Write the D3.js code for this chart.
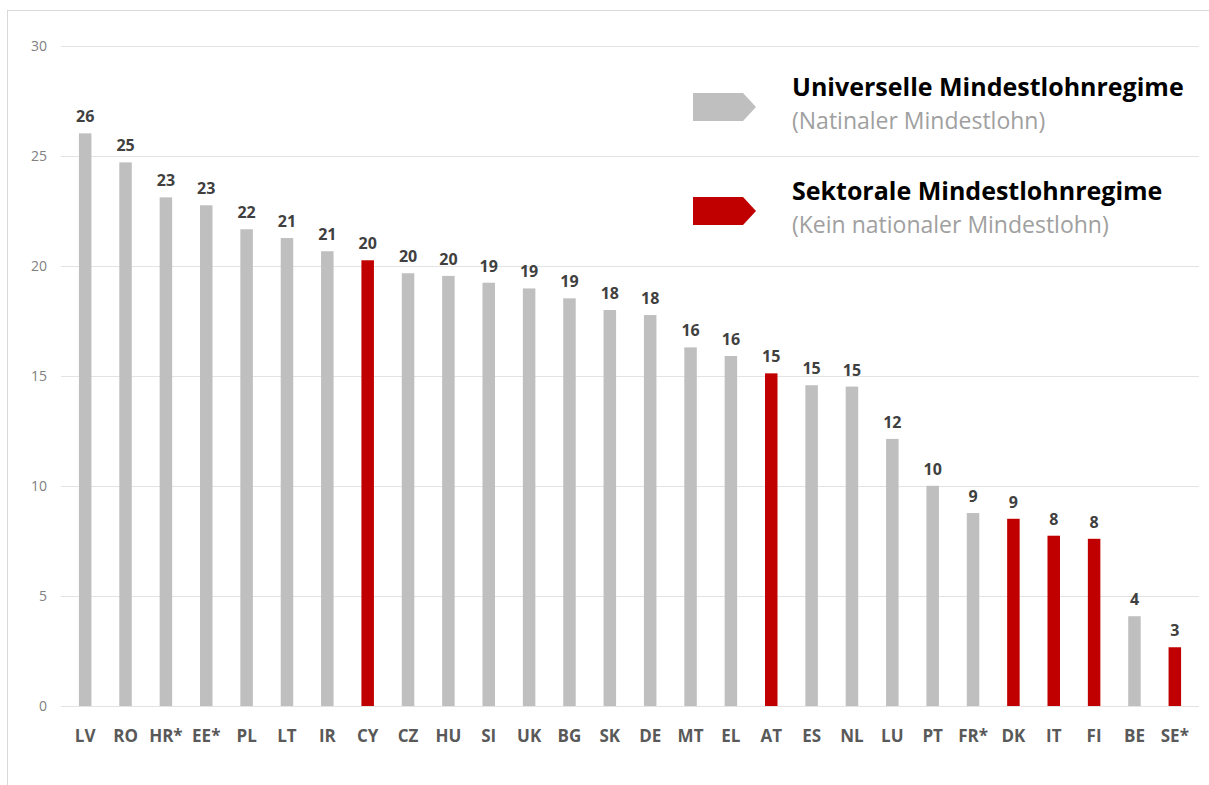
<!DOCTYPE html>
<html>
<head>
<meta charset="utf-8">
<script src="https://cdn.jsdelivr.net/npm/d3@7"></script>
<style>
  body { margin: 0; background: #fff; }
  svg { display: block; font-family: "Open Sans", "Noto Sans", sans-serif; }
</style>
</head>
<body>
<svg id="chart" width="1209" height="785"></svg>
<script>

// Laender (Reihenfolge wie im Bild)
var countries = ["LV", "RO", "HR*", "EE*", "PL", "LT", "IR", "CY", "CZ", "HU",
  "SI", "UK", "BG", "SK", "DE", "MT", "EL", "AT", "ES", "NL",
  "LU", "PT", "FR*", "DK", "IT", "FI", "BE", "SE*"];

// Werte
var values = [26.03, 24.71, 23.12, 22.76, 21.67, 21.27, 20.67, 20.26, 19.67, 19.55,
  19.24, 18.98, 18.53, 18.0, 17.77, 16.30, 15.91, 15.12, 14.58, 14.52,
  12.14, 10.01, 8.77, 8.51, 7.74, 7.60, 4.08, 2.67];

// Sektorale Mindestlohnregime (kein nationaler Mindestlohn)
var sectoral = ["CY", "AT", "DK", "IT", "FI", "SE*"];

var yTicks = [0, 5, 10, 15, 20, 25, 30];

var legendItems = [
  {title: "Universelle Mindestlohnregime", sub: "(Natinaler Mindestlohn)", type: "universal"},
  {title: "Sektorale Mindestlohnregime", sub: "(Kein nationaler Mindestlohn)", type: "sectoral"}
];

var colors = {universal: "#bfbfbf", sectoral: "#c00000"};

var data = countries.map(function(c, i){
  return {name: c, value: values[i], type: sectoral.indexOf(c) >= 0 ? "sectoral" : "universal"};
});

var svg = d3.select("svg#chart");

// Rahmen (nur oben und links sichtbar)
svg.append("line")
  .attr("x1", 7).attr("y1", 10.5).attr("x2", 1209).attr("y2", 10.5)
  .attr("stroke", "#d9d9d9");
svg.append("line")
  .attr("x1", 7.5).attr("y1", 10).attr("x2", 7.5).attr("y2", 785)
  .attr("stroke", "#d9d9d9");

var x = d3.scaleBand()
  .domain(countries)
  .range([65, 1195])
  .paddingInner(0.69)
  .paddingOuter(0.345);

var y = d3.scaleLinear()
  .domain([0, 30])
  .range([706, 46]);

// Gitterlinien
svg.selectAll("line.grid")
  .data(yTicks)
  .enter().append("line")
  .attr("class", "grid")
  .attr("x1", 61)
  .attr("x2", 1199)
  .attr("y1", d => Math.round(y(d)) + 0.5)
  .attr("y2", d => Math.round(y(d)) + 0.5)
  .attr("stroke", "#e3e3e3");

// y-Achse
var yAxis = svg.append("g")
  .attr("transform", "translate(47,0)")
  .call(d3.axisLeft(y).tickValues(yTicks).tickSize(0).tickPadding(0));
yAxis.select(".domain").remove();
yAxis.selectAll("text")
  .attr("fill", "#808080")
  .style("font-size", "14px")
  .style("font-family", "'Open Sans', sans-serif");

// x-Achse
var xAxis = svg.append("g")
  .attr("transform", "translate(0,706)")
  .call(d3.axisBottom(x).tickSize(0).tickPadding(24));
xAxis.select(".domain").remove();
xAxis.selectAll("text")
  .attr("fill", "#595959")
  .style("font-size", "17px")
  .style("font-weight", "bold")
  .style("font-family", "'Open Sans', sans-serif");

// Balken
svg.selectAll("rect.bar")
  .data(data)
  .enter().append("rect")
  .attr("class", "bar")
  .attr("x", d => x(d.name))
  .attr("y", d => y(d.value))
  .attr("width", x.bandwidth())
  .attr("height", d => y(0) - y(d.value))
  .attr("fill", d => colors[d.type]);

// Werte ueber den Balken
svg.selectAll("text.value")
  .data(data)
  .enter().append("text")
  .attr("class", "value")
  .attr("x", d => x(d.name) + x.bandwidth() / 2)
  .attr("y", d => y(d.value) - 11)
  .attr("text-anchor", "middle")
  .attr("fill", "#404040")
  .style("font-size", "16px")
  .style("font-weight", "bold")
  .text(d => Math.round(d.value));

// Legende
var legend = svg.selectAll("g.legend")
  .data(legendItems)
  .enter().append("g")
  .attr("class", "legend")
  .attr("transform", (d, i) => "translate(693," + (93 + i * 104) + ")");

legend.append("path")
  .attr("d", "M0,0 L50,0 L63,14 L50,28 L0,28 Z")
  .attr("fill", d => colors[d.type]);

legend.append("text")
  .attr("x", 99)
  .attr("y", 3)
  .attr("fill", "#000")
  .style("font-size", "25px")
  .style("font-weight", "bold")
  .text(d => d.title);

legend.append("text")
  .attr("x", 99)
  .attr("y", 36)
  .attr("fill", "#a0a0a0")
  .style("font-size", "23px")
  .text(d => d.sub);

</script>
</body>
</html>
